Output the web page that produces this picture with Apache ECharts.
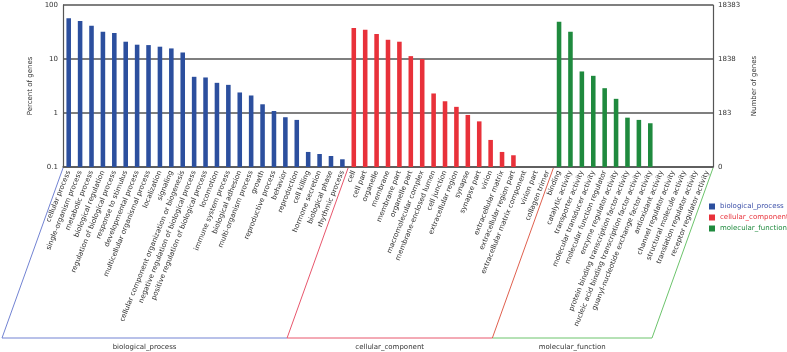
<!DOCTYPE html>
<html>
<head>
<meta charset="utf-8">
<script src="https://cdn.jsdelivr.net/npm/echarts@6/dist/echarts.min.js"></script>
<style>
  html, body { margin: 0; padding: 0; background: #fff; }
  #main { width: 787px; height: 352px; }
</style>
</head>
<body>
<div id="main"></div>
<script>
// GO 注释分类
var bpNames = ['cellular process', 'single-organism process', 'metabolic process', 'biological regulation',
  'regulation of biological process', 'response to stimulus', 'developmental process',
  'multicellular organismal process', 'localization', 'signaling',
  'cellular component organization or biogenesis', 'negative regulation of biological process',
  'positive regulation of biological process', 'locomotion', 'immune system process',
  'biological adhesion', 'multi-organism process', 'growth', 'reproductive process', 'behavior',
  'reproduction', 'cell killing', 'hormone secretion', 'biological phase', 'rhythmic process'];
var bpValues = [56.6, 50.5, 41.4, 32.0, 30.2, 20.9, 18.4, 18.1, 16.9, 15.7,
  13.2, 4.68, 4.55, 3.62, 3.32, 2.40, 2.11, 1.45, 1.09, 0.835,
  0.745, 0.19, 0.174, 0.16, 0.139];

var ccNames = ['cell', 'cell part', 'organelle', 'membrane', 'membrane part', 'organelle part',
  'macromolecular complex', 'membrane-enclosed lumen', 'cell junction', 'extracellular region',
  'synapse', 'synapse part', 'virion', 'extracellular matrix', 'extracellular region part',
  'extracellular matrix component', 'virion part', 'collagen trimer'];
var ccValues = [37.4, 34.9, 29.0, 22.7, 20.9, 11.3, 9.96, 2.30, 1.65, 1.30,
  0.92, 0.70, 0.317, 0.19, 0.165, null, null, null];

var mfNames = ['binding', 'catalytic activity', 'transporter activity', 'molecular transducer activity',
  'molecular function regulator', 'enzyme regulator activity',
  'protein binding transcription factor activity', 'nucleic acid binding transcription factor activity',
  'guanyl-nucleotide exchange factor activity', 'antioxidant activity', 'channel regulator activity',
  'structural molecule activity', 'translation regulator activity', 'receptor regulator activity'];
var mfValues = [49.1, 32.0, 5.88, 4.88, 2.88, 1.83, 0.82, 0.745, 0.646,
  null, null, null, null, null];

var groupNames = ['biological_process', 'cellular_component', 'molecular_function'];
var percentTicks = ['0.1', '1', '10', '100'];
var geneTicks = ['0', '183', '1838', '18383'];

var barColors = ['#2c4f9e', '#e8313a', '#1f8a3e'];
var lineColors = ['#7283d3', '#e8566c', '#6cc46c'];
var textColors = ['#3b4fa8', '#e8313a', '#1f8a3e'];
var FONT = 'DejaVu Sans';
var Y_MIN = 0.1, Y_MAX = 100;

var allNames = bpNames.concat(ccNames, mfNames);
var groups = [bpValues, ccValues, mfValues];

// 每组转成 [类别序号, 值]
var offset = 0;
var seriesData = groups.map(function (vals) {
  var d = [];
  vals.forEach(function (v, i) {
    if (v != null) d.push([offset + i, v]);
  });
  offset += vals.length;
  return d;
});

function tickIndex(v) {
  return Math.round(Math.log10(v)) + 1;
}

function renderBar(params, api) {
  var top = api.coord([api.value(0), api.value(1)]);
  var base = api.coord([api.value(0), Y_MIN]);
  var w = api.size([1, 0])[0] * 0.4;
  return {
    type: 'rect',
    shape: { x: top[0] - w / 2, y: top[1], width: w, height: base[1] - top[1] },
    style: api.style()
  };
}

var chart = echarts.init(document.getElementById('main'), null, { renderer: 'canvas' });

var option = {
  backgroundColor: '#ffffff',
  animation: false,
  textStyle: { fontFamily: FONT },
  grid: { left: 63, right: 74, top: 5, bottom: 185, containLabel: false },
  legend: {
    orient: 'vertical', left: 709, top: 203, padding: 0,
    icon: 'rect', itemWidth: 6, itemHeight: 6, itemGap: 4,
    textStyle: { fontSize: 7, fontFamily: FONT },
    data: groupNames.map(function (n, i) {
      return { name: n, textStyle: { color: textColors[i] } };
    })
  },
  xAxis: {
    type: 'category',
    data: allNames,
    axisTick: { show: false },
    axisLine: { lineStyle: { color: '#555', width: 1.5 } },
    axisLabel: {
      interval: 0, rotate: 68, fontSize: 7, color: '#333', margin: 4, fontFamily: FONT
    }
  },
  yAxis: [{
    type: 'log', logBase: 10, min: Y_MIN, max: Y_MAX,
    name: 'Percent of genes', nameLocation: 'middle', nameGap: 27,
    nameTextStyle: { fontSize: 7, color: '#333', fontFamily: FONT },
    axisLine: { show: true, lineStyle: { color: '#555', width: 1.2 } },
    axisTick: { show: false },
    splitLine: { lineStyle: { color: '#555', width: 1.5 } },
    axisLabel: {
      fontSize: 7, color: '#333', margin: 5, padding: [0, 0, 5, 0], fontFamily: FONT,
      formatter: function (v) { return percentTicks[tickIndex(v)]; }
    }
  }, {
    type: 'log', logBase: 10, min: Y_MIN, max: Y_MAX, position: 'right',
    name: 'Number of genes', nameLocation: 'middle', nameGap: 29,
    nameTextStyle: { fontSize: 7, color: '#333', fontFamily: FONT },
    axisLine: { show: true, lineStyle: { color: '#555', width: 1.2 } },
    axisTick: { show: false },
    splitLine: { show: false },
    axisLabel: {
      fontSize: 7, color: '#333', margin: 5, padding: [0, 0, 5, 0], fontFamily: FONT,
      formatter: function (v) { return geneTicks[tickIndex(v)]; }
    }
  }],
  series: groupNames.map(function (n, i) {
    return {
      name: n, type: 'custom', renderItem: renderBar,
      encode: { x: 0, y: 1 },
      itemStyle: { color: barColors[i] },
      data: seriesData[i]
    };
  })
};
chart.setOption(option);

// 底部分组框 + 组名
var step = chart.convertToPixel({ xAxisIndex: 0 }, 1) - chart.convertToPixel({ xAxisIndex: 0 }, 0);
var yTop = chart.convertToPixel({ yAxisIndex: 0 }, Y_MIN) + 1;
var yBot = 338, slant = 61;
var bounds = [0, bpNames.length, bpNames.length + ccNames.length, allNames.length].map(function (k) {
  return chart.convertToPixel({ xAxisIndex: 0 }, 0) + (k - 0.5) * step;
});
var elements = [];
function seg(x1, y1, x2, y2, c) {
  elements.push({ type: 'line', shape: { x1: x1, y1: y1, x2: x2, y2: y2 },
    style: { stroke: c, lineWidth: 1 }, silent: true });
}
for (var g = 0; g < 3; g++) {
  var xl = bounds[g], xr = bounds[g + 1];
  seg(xl - slant, yBot, xr - slant, yBot, lineColors[g]);
  elements.push({
    type: 'text', x: ((xl + xr) / 2) - slant, y: yBot + 9, silent: true,
    style: { text: groupNames[g], fill: '#333', font: '7px "' + FONT + '"', align: 'center', verticalAlign: 'middle' }
  });
}
seg(bounds[0], yTop, bounds[0] - slant, yBot, lineColors[0]);
seg(bounds[1], yTop, bounds[1] - slant, yBot, lineColors[1]);
seg(bounds[2], yTop, bounds[2] - slant, yBot, '#e0604e');
seg(bounds[3], yTop, bounds[3] - slant, yBot, lineColors[2]);
chart.setOption({ graphic: { elements: elements } });
</script>
</body>
</html>
